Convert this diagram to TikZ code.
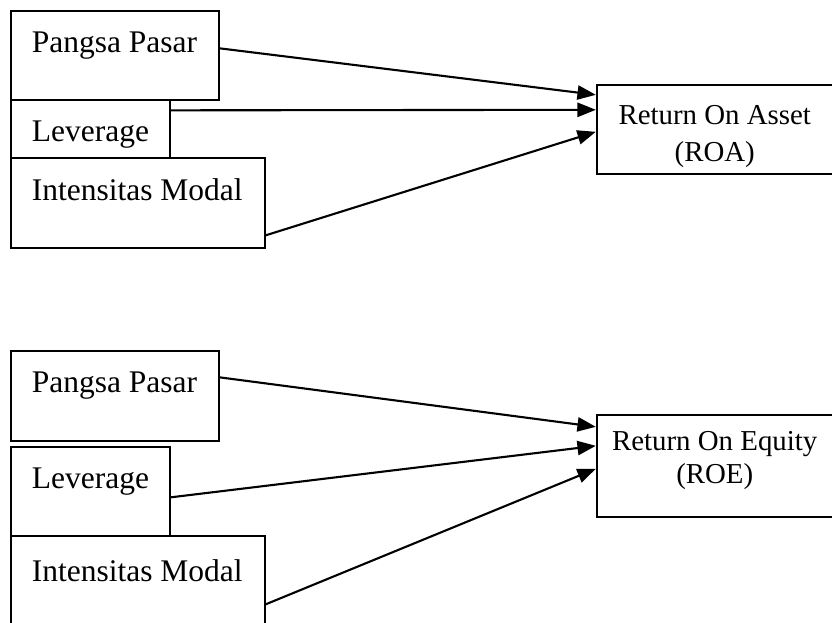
\documentclass[tikz,border=0pt]{standalone}
\usepackage{fontspec}
\setmainfont{Liberation Serif}
\usetikzlibrary{arrows.meta, fit, calc}

\begin{document}
\begin{tikzpicture}[
            x = 0.381pt, y = -0.381pt,
            var/.style = {draw, line width = 0.5pt, inner sep = 0pt},
            dep/.style = {draw, line width = 0.9pt, inner sep = 0pt},
            varname/.style = {anchor = north west, inner sep = 0pt, xshift = 8pt, yshift = -8pt,
                              font = \fontsize{12}{14}\selectfont},
            depname/.style = {anchor = north, align = center, inner sep = 0pt, xshift = 45.3pt,
                              font = \fontsize{11}{14.1}\selectfont},
            link/.style = {-{Triangle[length = 7pt, width = 5.4pt]}, line width = 0.8pt}
            ]
            \useasboundingbox (0,0) rectangle (832,623);
            \clip (0,0) rectangle (832,623);

            \node[var, fit = {(11,11) (219,100)}, label = {[varname]north west:Pangsa Pasar}] (pasar1) {};
            \node[var, fit = {(11,100) (170,158)}, label = {[varname]north west:Leverage}] (lev1) {};
            \node[var, fit = {(11,158) (265,248)}, label = {[varname]north west:Intensitas Modal}] (modal1) {};
            \node[dep, fit = {(597,85) (845,174)},
                  label = {[depname, yshift = -8pt]north west:Return On Asset\\(ROA)}] (roa) {};

            \draw[link] ($(pasar1.north east)+(0,38)$) -- ($(roa.north west)+(0,11)$);
            \draw[link] ($(lev1.north east)+(0,11)$) -- ($(roa.north west)+(0,26)$);
            \draw[link] ($(modal1.north east)+(0,78)$) -- ($(roa.north west)+(0,48)$);

            \node[var, fit = {(11,351) (219,441)}, label = {[varname]north west:Pangsa Pasar}] (pasar2) {};
            \node[var, fit = {(11,447) (170,536)}, label = {[varname]north west:Leverage}] (lev2) {};
            \node[var, fit = {(11,536) (265,650)}, label = {[varname, yshift = -1pt]north west:Intensitas Modal}] (modal2) {};
            \node[dep, fit = {(597,415) (845,517)},
                  label = {[depname, yshift = -6.5pt, font = \fontsize{11}{12.6}\selectfont]north west:Return On Equity\\(ROE)}] (roe) {};

            \draw[link] ($(pasar2.north east)+(0,27)$) -- ($(roe.north west)+(0,13)$);
            \draw[link] ($(lev2.north east)+(0,51)$) -- ($(roe.north west)+(0,32)$);
            \draw[link] ($(modal2.north east)+(0,69)$) -- ($(roe.north west)+(0,55)$);
          \end{tikzpicture}
\end{document}
